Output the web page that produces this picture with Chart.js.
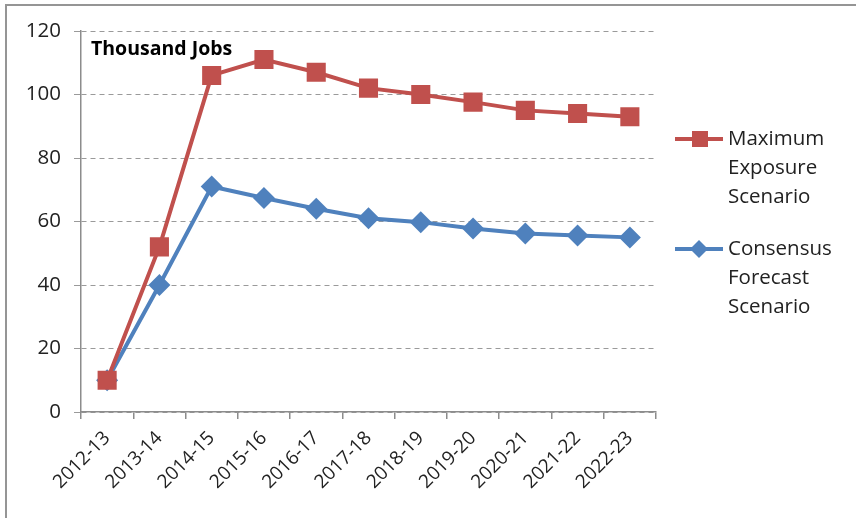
<!DOCTYPE html>
<html>
<head>
<meta charset="utf-8">
<script src="https://cdn.jsdelivr.net/npm/chart.js@4.4.1/dist/chart.umd.min.js"></script>
<style>
  html, body { margin: 0; padding: 0; background: #fff; }
  #wrap { position: relative; width: 856px; height: 518px; overflow: hidden; }
  #frame { position: absolute; left: 5px; top: 4px; width: 900px; height: 600px; border-left: 2px solid #959595; border-top: 2px solid #959595; pointer-events: none; }
</style>
</head>
<body>
<div id="wrap">
  <canvas id="jobs" width="856" height="518"></canvas>
  <div id="frame"></div>
</div>
<script>
// data
const years = ['2012-13', '2013-14', '2014-15', '2015-16', '2016-17', '2017-18',
               '2018-19', '2019-20', '2020-21', '2021-22', '2022-23'];
const maxExposure = [10, 52, 106, 111, 107, 102, 100, 97.6, 95, 94, 93];
const consensus = [10, 40, 71, 67.4, 64, 61, 59.8, 57.8, 56.2, 55.6, 55];
const yTicks = [0, 20, 40, 60, 80, 100, 120];
const legendLines = [
  ['Maximum', 'Exposure', 'Scenario'],
  ['Consensus', 'Forecast', 'Scenario']
];

const RED = '#c0504d';
const BLUE = '#4f81bd';
const FONT = '"Open Sans", "Liberation Sans", sans-serif';

// "Thousand Jobs" label + right-hand legend with wrapped labels
const extras = {
  id: 'extras',
  afterDraw(chart) {
    const ctx = chart.ctx;
    const area = chart.chartArea;
    ctx.save();
    ctx.fillStyle = '#000';
    ctx.font = 'bold 19.5px ' + FONT;
    ctx.textBaseline = 'middle';
    ctx.fillText('Thousand Jobs', area.left + 10, area.top + 18);

    const rows = [139, 249];
    chart.data.datasets.forEach((ds, i) => {
      const y = rows[i];
      ctx.strokeStyle = ds.borderColor;
      ctx.lineWidth = 4;
      ctx.beginPath();
      ctx.moveTo(675, y);
      ctx.lineTo(723, y);
      ctx.stroke();
      ctx.fillStyle = ds.borderColor;
      if (ds.pointStyle === 'rect') {
        ctx.fillRect(692, y - 8, 16, 16);
      } else {
        ctx.beginPath();
        ctx.moveTo(699, y - 9);
        ctx.lineTo(708, y);
        ctx.lineTo(699, y + 9);
        ctx.lineTo(690, y);
        ctx.closePath();
        ctx.fill();
      }
      ctx.fillStyle = '#222';
      ctx.font = '20.5px ' + FONT;
      legendLines[i].forEach((t, k) => ctx.fillText(t, 728, y + k * 29));
    });
    ctx.restore();
  }
};

new Chart(document.getElementById('jobs'), {
  type: 'line',
  data: {
    labels: years,
    datasets: [
      {
        label: legendLines[0].join(' '),
        data: maxExposure,
        borderColor: RED,
        backgroundColor: RED,
        borderWidth: 4,
        pointStyle: 'rect',
        pointRadius: 13.5,
        pointBorderWidth: 0,
        tension: 0
      },
      {
        label: legendLines[1].join(' '),
        data: consensus,
        borderColor: BLUE,
        backgroundColor: BLUE,
        borderWidth: 4,
        pointStyle: 'rectRot',
        pointRadius: 11,
        pointBorderWidth: 0,
        tension: 0
      }
    ]
  },
  options: {
    responsive: false,
    animation: false,
    layout: { padding: { top: 31, right: 200, bottom: 0, left: 0 } },
    plugins: {
      legend: { display: false },
      tooltip: { enabled: false }
    },
    scales: {
      x: {
        offset: true,
        afterFit: (s) => { s.height = 106; },
        grid: {
          offset: true,
          drawOnChartArea: false,
          drawTicks: true,
          tickLength: 7,
          color: '#8c8c8c',
          lineWidth: 1.5
        },
        border: { display: true, color: '#8c8c8c', width: 1.5 },
        ticks: {
          minRotation: 45,
          maxRotation: 45,
          autoSkip: false,
          padding: 8,
          color: '#222',
          font: { family: FONT, size: 19 }
        }
      },
      y: {
        min: 0,
        max: 120,
        afterFit: (s) => { s.width = 81; },
        afterBuildTicks: (s) => { s.ticks = yTicks.map(v => ({ value: v })); },
        grid: {
          color: '#9a9a9a',
          lineWidth: 1,
          tickLength: 7,
          drawTicks: true
        },
        border: { display: true, color: '#8c8c8c', width: 1.5, dash: [5, 4] },
        ticks: {
          padding: 13,
          color: '#222',
          font: { family: FONT, size: 20.5 }
        }
      }
    }
  },
  plugins: [extras]
});
</script>
</body>
</html>
